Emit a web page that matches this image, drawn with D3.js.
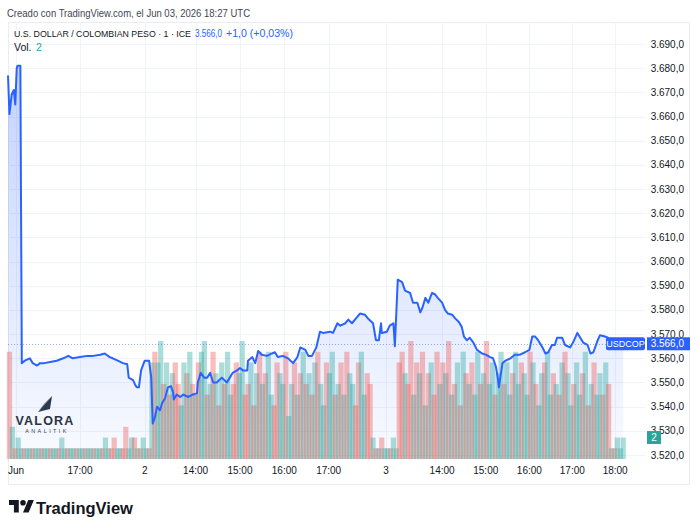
<!DOCTYPE html>
<html>
<head>
<meta charset="utf-8">
<script src="https://cdn.jsdelivr.net/npm/d3@7"></script>
<style>
  body { margin: 0; background: #fff; }
  svg text { font-family: "Liberation Sans", Arial, sans-serif; }
</style>
</head>
<body>
<div id="chart"></div>
<script>
// Time is counted in minutes along the compressed session axis (closed hours removed).
const tickLabels  = ["Jun", "17:00", "2", "14:00", "15:00", "16:00", "17:00", "3", "14:00", "15:00", "16:00", "17:00", "18:00"];
const tickMinutes = [11, 99, 188, 258, 319, 380, 441, 520, 597, 657, 717, 776, 835];

const priceTicks = d3.range(3520, 3691, 10);

// USD/COP line
const priceMinutes = [0, 2, 5, 8, 10, 12, 13, 17, 19, 23, 30, 34, 40, 44, 50, 58, 67, 76, 83, 89, 99, 109, 117, 127, 133, 140, 144, 151, 158, 164, 166, 172, 175, 177, 180, 183, 188, 194, 197,
  199, 202, 205, 209, 212, 216, 220, 224, 227, 228, 232, 237, 241, 248, 254, 260, 261, 265, 270, 274, 278, 282, 287, 294, 301, 305, 309, 315, 319, 323, 329, 330, 336, 340, 344, 349, 356, 363, 367, 371, 378, 385, 392, 398,
  402, 409, 413, 418, 424, 429, 433, 443, 447, 453, 457, 464, 468, 473, 480, 484, 491, 495, 502, 506, 510, 513, 514, 521, 525, 530, 532,
  536, 542, 546, 553, 557, 563, 567, 570, 574, 578, 583, 587, 591, 597, 601, 605, 611, 615, 620, 624, 627, 631, 635, 640, 645, 652, 657, 663, 667, 671, 674, 675,
  680, 684, 691, 697, 704, 711, 717, 721, 725, 729, 735, 739, 743, 748, 752, 755, 762, 766, 773, 777, 783, 787, 791, 797, 801, 805, 811, 814, 821, 825, 834, 846];
const priceValues = [3677, 3661, 3669, 3671, 3665, 3680, 3681, 3681, 3558, 3559, 3560, 3558, 3557, 3558, 3558, 3558.5, 3559, 3560, 3561, 3560, 3560.5, 3561, 3561, 3561.5, 3562, 3560.5, 3560, 3559, 3558, 3557.5, 3552, 3551, 3549, 3548, 3548, 3555, 3559, 3559, 3552,
  3533, 3535.5, 3540, 3538.5, 3541.5, 3543.5, 3548, 3548.5, 3546, 3543, 3545, 3544, 3545, 3544, 3545, 3545.5, 3550, 3554, 3552, 3552, 3554, 3550, 3550, 3552, 3550, 3552, 3554, 3555, 3556, 3555, 3555, 3559, 3560.5, 3558, 3563, 3561.5, 3561, 3562, 3562.5, 3560.5, 3561, 3560, 3558, 3560.5,
  3564.5, 3563.5, 3561, 3561, 3564.5, 3571, 3570.5, 3571, 3570.5, 3574.5, 3573.5, 3574.5, 3576, 3574.5, 3577, 3578.5, 3578, 3576.5, 3574.5, 3567.5, 3567.5, 3574.5, 3570.5, 3571, 3573.5, 3574.5, 3565,
  3592.5, 3591.5, 3588, 3587, 3583, 3583, 3579, 3581, 3585, 3583, 3587, 3586.5, 3585, 3583, 3580, 3578.5, 3578, 3576.5, 3575, 3573, 3569, 3567.5, 3568.5, 3566.5, 3563.5, 3562, 3561.5, 3560.5, 3560, 3556.5, 3551, 3548,
  3558, 3559, 3560, 3561.5, 3561.5, 3562.5, 3563.5, 3569, 3569, 3567.5, 3564.5, 3562, 3562.5, 3565.5, 3565.5, 3568.5, 3568.5, 3565.5, 3564.5, 3566.5, 3570.5, 3568.5, 3566.5, 3565.5, 3562, 3562.5, 3567.5, 3569.5, 3569, 3568.5, 3566, 3566];

const lastPrice = 3566;
const lastVolume = 2;

// Volume in 4-minute slots; negative = down bar (red), positive = up bar (teal)
const slotMinutes = 4;
const volDay1 = [-10, 3, -1, 2, 1, -1, 1, 1, -1, 1, 1, -1, 1, 1, -1, 1, 1, -1, 2, 1, -1, 1, 1, -1, 1, 1, -1, 1, 1, -1,
  1, 1, -1, 2, 1, -1, -2, 1, 1, -1, -3, 1, 2, -2, 1, -1, 2, 1, -1];
const volDay2 = [9, -10, 9, 11, -7, 9, -6, 8, -9, -7, 5, 9, -8, 10, -7, 6, -9, 10, 11, -6, 7, -10, 8, -5, 9, -7, 10, 6, -7, -9,
  8, 11, -6, -7, 9, -5, 8, -10, 7, -8, 10, 6, -5, -9, 8, 7, -10, 4, 7, -9, 6, -8, 10, -7, 8, -6, 9, -10, 7, 5,
  -9, 8, 10, -6, 7, -9, 6, -10, 8, 7, -5, -9, 10, 6, -8, -7];
const volGap = [2, -1, 1, -2, 1, 1, -1, 2, 1];
const volDay3 = [-9, -10, 8, -7, -11, 6, -9, 8, -10, 5, -8, 9, -6, -10, 7, -9, 8, -11, 6, -7, 9, -5, 10, -8, 7, -9, 6, 10, -7, 8,
  -11, 7, 9, -6, 8, 10, -7, 9, 6, -8, 10, 7, -9, 8, 6, -10, 9, -7, 5, 8, -9, 10, 6, -8, 7, -6, 9, -10, 8, 5,
  -7, 9, 6, -8, 10, -5, 7, -9, 6, 8, -6, 9, -7];
const volTail = [1, -1, 2, 1, 2];

const width = 700, height = 531;
const plot = {left: 8, right: 645, top: 22, bottom: 459};

const blue = "#2962ff", teal = "#26a69a", red = "#ef5350";
const fmt = d3.formatLocale({decimal: ",", thousands: ".", grouping: [3], currency: ["$", ""]}).format(",.1f");

const svg = d3.select("#chart").append("svg")
  .attr("width", width)
  .attr("height", height);

const x = d3.scaleLinear().domain([0, 876]).range([plot.left, plot.right]);
const y = d3.scaleLinear().domain([3520, 3690]).range([455, 44]);
const yVol = d3.scaleLinear().domain([0, 11]).range([plot.bottom, plot.bottom - 118]);

// header
svg.append("text")
  .attr("x", 7).attr("y", 17)
  .attr("font-size", 11).attr("fill", "#434651")
  .attr("textLength", 243).attr("lengthAdjust", "spacingAndGlyphs")
  .text("Creado con TradingView.com, el Jun 03, 2026 18:27 UTC");

// frame
svg.append("rect")
  .attr("x", 8.5).attr("y", 22.5)
  .attr("width", 681).attr("height", 462)
  .attr("fill", "none").attr("stroke", "#e9ecf2");

// grid
svg.append("g").selectAll("line")
  .data(priceTicks)
  .join("line")
  .attr("x1", plot.left).attr("x2", plot.right)
  .attr("y1", d => Math.round(y(d)) + 0.5).attr("y2", d => Math.round(y(d)) + 0.5)
  .attr("stroke", "#f0f3fa");

svg.append("g").selectAll("line")
  .data(tickMinutes)
  .join("line")
  .attr("x1", d => Math.round(x(d)) + 0.5).attr("x2", d => Math.round(x(d)) + 0.5)
  .attr("y1", plot.top).attr("y2", plot.bottom)
  .attr("stroke", "#f0f3fa");

// area under the line
const grad = svg.append("defs").append("linearGradient")
  .attr("id", "fillGrad")
  .attr("gradientUnits", "userSpaceOnUse")
  .attr("x1", 0).attr("x2", 0)
  .attr("y1", y(3681)).attr("y2", plot.bottom);
grad.append("stop").attr("offset", 0).attr("stop-color", blue).attr("stop-opacity", 0.28);
grad.append("stop").attr("offset", 1).attr("stop-color", blue).attr("stop-opacity", 0.03);

const pts = priceMinutes.map((m, i) => [m, priceValues[i]]);

svg.append("path")
  .datum(pts)
  .attr("fill", "url(#fillGrad)")
  .attr("d", d3.area().x(d => x(d[0])).y0(plot.bottom).y1(d => y(d[1])));

// volume
const volumes = volDay1.concat(volDay2, volGap, volDay3, volTail);
const step = x(slotMinutes) - x(0);

svg.append("g").selectAll("rect")
  .data(volumes)
  .join("rect")
  .attr("x", (d, i) => x(i * slotMinutes + slotMinutes / 2) - step * 0.9)
  .attr("width", step * 1.8)
  .attr("y", d => yVol(Math.abs(d)))
  .attr("height", d => plot.bottom - yVol(Math.abs(d)))
  .attr("fill", d => d < 0 ? red : teal)
  .attr("fill-opacity", 0.38);

// last price dotted line
svg.append("line")
  .attr("x1", plot.left).attr("x2", plot.right)
  .attr("y1", Math.round(y(lastPrice)) + 0.5).attr("y2", Math.round(y(lastPrice)) + 0.5)
  .attr("stroke", blue).attr("stroke-opacity", 0.5)
  .attr("stroke-dasharray", "1 2");

// price line
svg.append("path")
  .datum(pts)
  .attr("fill", "none")
  .attr("stroke", blue)
  .attr("stroke-width", 2)
  .attr("stroke-linejoin", "round")
  .attr("d", d3.line().x(d => x(d[0])).y(d => y(d[1])));

// price axis
svg.append("g").selectAll("text")
  .data(priceTicks)
  .join("text")
  .attr("x", 684).attr("y", d => y(d) + 3.5)
  .attr("text-anchor", "end")
  .attr("font-size", 10).attr("fill", "#131722")
  .text(d => fmt(d));

// time axis
svg.append("g").selectAll("text")
  .data(tickMinutes)
  .join("text")
  .attr("x", d => x(d)).attr("y", 474)
  .attr("text-anchor", "middle")
  .attr("font-size", 10).attr("fill", "#131722")
  .text((d, i) => tickLabels[i]);

// last value labels
const ly = y(lastPrice);
svg.append("rect").attr("x", 606).attr("y", ly - 6.5).attr("width", 39).attr("height", 13).attr("rx", 2).attr("fill", blue);
svg.append("text").attr("x", 625.5).attr("y", ly + 3.5).attr("text-anchor", "middle")
  .attr("font-size", 9).attr("fill", "#fff").text("USDCOP");
svg.append("rect").attr("x", 647).attr("y", ly - 6.5).attr("width", 43).attr("height", 13).attr("fill", blue);
svg.append("text").attr("x", 684).attr("y", ly + 3.5).attr("text-anchor", "end")
  .attr("font-size", 10).attr("fill", "#fff").text(fmt(lastPrice));

const vy = yVol(lastVolume);
svg.append("rect").attr("x", 647).attr("y", vy - 6.5).attr("width", 14).attr("height", 13).attr("fill", teal);
svg.append("text").attr("x", 654).attr("y", vy + 3.5).attr("text-anchor", "middle")
  .attr("font-size", 10).attr("fill", "#fff").text(lastVolume);

// legend
svg.append("text").attr("x", 14).attr("y", 37).attr("font-size", 9.2).attr("fill", "#131722")
  .attr("textLength", 177).attr("lengthAdjust", "spacingAndGlyphs")
  .text("U.S. DOLLAR / COLOMBIAN PESO · 1 · ICE");
svg.append("text").attr("x", 195).attr("y", 37).attr("font-size", 10).attr("fill", blue)
  .attr("textLength", 27).attr("lengthAdjust", "spacingAndGlyphs")
  .text(fmt(lastPrice));
svg.append("text").attr("x", 226).attr("y", 37).attr("font-size", 10).attr("fill", blue)
  .attr("textLength", 67).attr("lengthAdjust", "spacingAndGlyphs")
  .text("+1,0 (+0,03%)");

const vol = svg.append("text").attr("y", 51).attr("font-size", 10.5);
vol.append("tspan").attr("x", 14).attr("fill", "#131722").text("Vol.");
vol.append("tspan").attr("x", 36).attr("fill", teal).text(lastVolume);

// Valora Analitik watermark
const wm = svg.append("g");
wm.append("path").attr("d", "M38,412 L52,396 L50,409 Z").attr("fill", "#2d3a4f");
wm.append("path").attr("d", "M38,412 L52,396 L44,404 Z").attr("fill", "#52627a");
wm.append("text").attr("x", 45).attr("y", 425).attr("text-anchor", "middle")
  .attr("font-size", 12.5).attr("font-weight", 700).attr("letter-spacing", 1.2).attr("fill", "#2b3340").text("VALORA");
wm.append("text").attr("x", 47).attr("y", 433).attr("text-anchor", "middle")
  .attr("font-size", 5.5).attr("letter-spacing", 2.4).attr("fill", "#3b4350").text("ANALITIK");

// TradingView logo
const logo = svg.append("g").attr("transform", "translate(9,497.2) scale(0.7)").attr("fill", "#131722");
logo.append("path").attr("d", "M14 22H7V11H0V4h14v18zM28 22h-8l7.5-18h8L28 22z");
logo.append("circle").attr("cx", 20).attr("cy", 8).attr("r", 4);
svg.append("text").attr("x", 36).attr("y", 514)
  .attr("font-size", 16.5).attr("font-weight", 700).attr("fill", "#131722").text("TradingView");
</script>
</body>
</html>
